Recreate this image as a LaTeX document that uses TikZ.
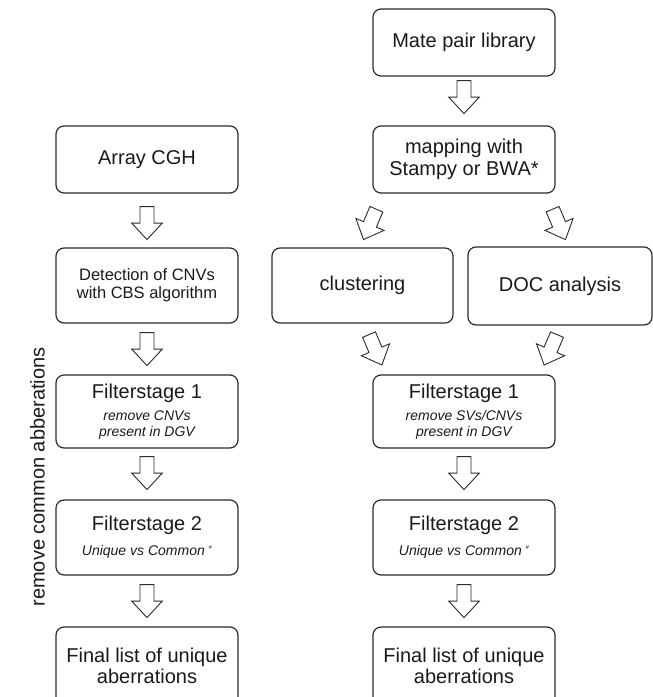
\documentclass[tikz,border=0pt]{standalone}
\usepackage{fontspec}
\setmainfont{Liberation Sans}
\usetikzlibrary{calc}
\definecolor{ink}{HTML}{2B2B2B}
\definecolor{txt}{HTML}{1A1A1A}
\newcommand{\subtxt}[1]{{\fontsize{14}{15.5}\selectfont\itshape #1}}
\newcommand{\hashmark}{~\raisebox{6pt}{\fontsize{6}{6}\selectfont\itshape\#}}
\begin{document}
\begin{tikzpicture}[x=1pt,y=1pt,
  box/.style={draw=ink, line width=1.2pt, rounded corners=8pt, align=center,
    inner sep=0pt, minimum width=182pt, text=txt,
    font=\fontsize{20}{21.5}\selectfont},
  barrow/.pic={\draw[draw=ink, line width=0.9pt, fill=white, line join=miter]
    (-7,0) -- (-7,-16.5) -- (-15.3,-16.5) -- (0,-33) -- (15.3,-16.5)
    -- (7,-16.5) -- (7,0) -- cycle;}
]
\clip (0,0) rectangle (653,-697);

% left column
\node[box, minimum height=67pt] (cgh) at (147,-159.5) {Array CGH};
\node[box, minimum height=75pt, font=\fontsize{16.5}{18}\selectfont] (det) at (147,-285.5) {Detection of CNVs\\with CBS algorithm};
\node[box, minimum height=73pt, font=\fontsize{20}{15.5}\selectfont] (f1l) at (147,-411.5)
  {Filterstage 1\\[7pt]\subtxt{remove CNVs}\\\subtxt{present in DGV}};
\node[box, minimum height=75pt, font=\fontsize{20}{25}\selectfont] (f2l) at (147,-537.5)
  {Filterstage 2\\\subtxt{Unique vs Common\hashmark}};
\node[box, minimum height=84pt, font=\fontsize{20}{21}\selectfont] (finl) at (147,-669)
  {\raisebox{1pt}{\begin{tabular}{@{}c@{}}Final list of unique\\aberrations\end{tabular}}};

% right column
\node[box, minimum height=67pt] (mate) at (464,-42.5) {Mate pair library};
\node[box, minimum height=67pt] (map) at (464,-159.5) {mapping with\\Stampy or BWA*};
\node[box, minimum height=75pt, minimum width=181pt] (clus) at (362.5,-285.5) {clustering};
\node[box, minimum height=78pt, minimum width=184pt] (doc) at (560,-286) {DOC analysis};
\node[box, minimum height=73pt, font=\fontsize{20}{15.5}\selectfont] (f1r) at (464,-411.5)
  {Filterstage 1\\[7pt]\subtxt{remove SVs/CNVs}\\\subtxt{present in DGV}};
\node[box, minimum height=75pt, font=\fontsize{20}{25}\selectfont] (f2r) at (464,-537.5)
  {Filterstage 2\\\subtxt{Unique vs Common\hashmark}};
\node[box, minimum height=84pt, font=\fontsize{20}{21}\selectfont] (finr) at (464,-669)
  {\raisebox{6.5pt}{\begin{tabular}{@{}c@{}}Final list of unique\\aberrations\end{tabular}}};

% side label
\node[rotate=90, text=txt, font=\fontsize{20}{22}\selectfont] (side) at (37.5,-477) {remove common abberations};

% block arrows
\pic at ($(cgh.south)+(0,-13)$) {barrow};
\pic at ($(det.south)+(0,-9)$) {barrow};
\pic at ($(f1l.south)+(0,-8)$) {barrow};
\pic at ($(f2l.south)+(0,-9)$) {barrow};
\pic at ($(mate.south)+(0,-4)$) {barrow};
\pic[rotate=-23] at ($(map.south west)+(4,-15.6)$) {barrow};
\pic[rotate=23] at ($(map.south east)+(-3,-15.6)$) {barrow};
\pic[rotate=23] at ($(clus.south)+(6.5,-11)$) {barrow};
\pic[rotate=-23] at ($(doc.south)+(-3,-9)$) {barrow};
\pic at ($(f1r.south)+(0,-8)$) {barrow};
\pic at ($(f2r.south)+(0,-9)$) {barrow};
\end{tikzpicture}
\end{document}
